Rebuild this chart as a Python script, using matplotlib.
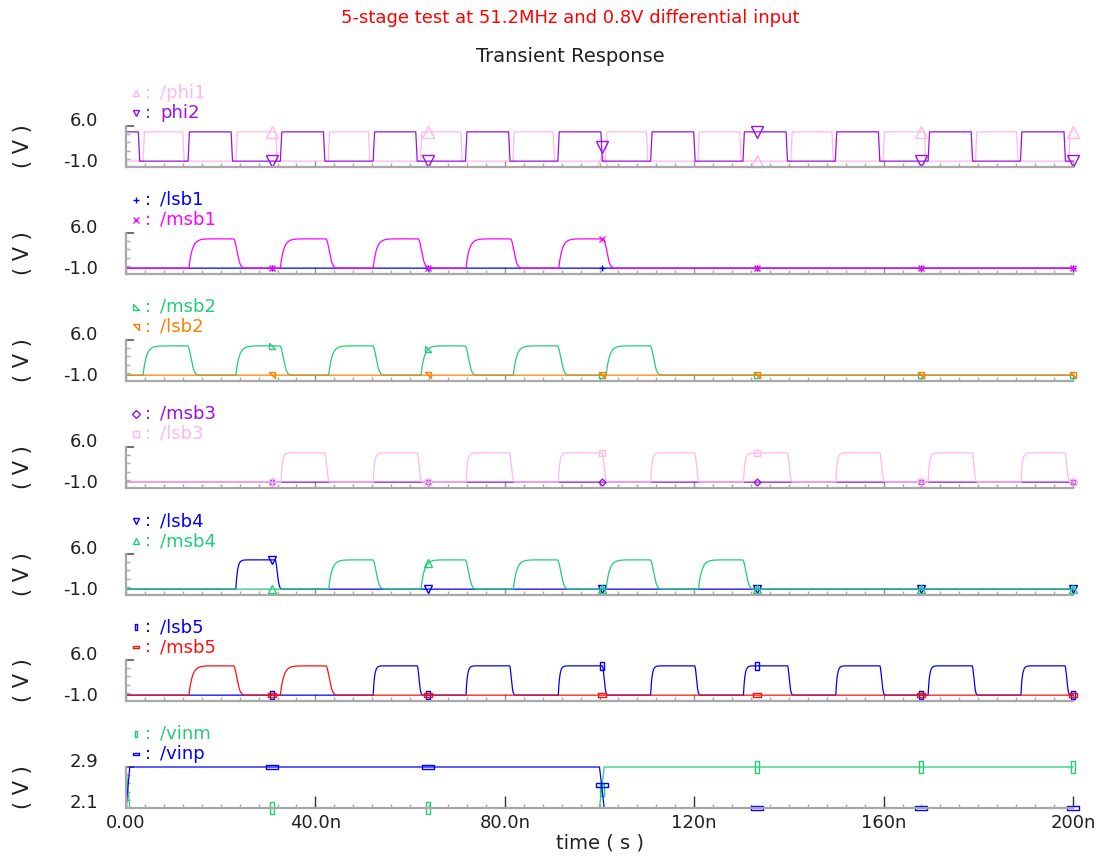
import numpy as np
import matplotlib.pyplot as plt
from matplotlib.path import Path
from matplotlib.ticker import MultipleLocator

plt.rcParams['font.family'] = ['DejaVu Sans']

# time axis in ns
t = np.linspace(0, 200, 8001)

# clock edges (ns)
phi1_rise = [3.6, 23.2, 42.7, 62.2, 81.7, 101.3, 120.8, 140.4, 159.9, 179.4, 199.1]
phi1_fall = [12.0, 31.6, 51.2, 70.7, 90.2, 109.9, 129.6, 149.1, 168.6, 188.1]
phi2_rise = [13.1, 32.6, 52.2, 71.7, 91.2, 110.8, 130.3, 149.8, 169.4, 188.9]
phi2_fall = [2.6, 22.2, 41.7, 61.2, 80.8, 100.3, 119.9, 139.4, 158.9, 178.5, 198.1]

# output bit pulses: start of rising edge / start of falling edge (ns)
msb1_rise = [13.3, 32.6, 52.2, 71.8, 91.4]
msb1_fall = [22.7, 42.2, 61.7, 81.2, 100.8]
msb2_rise = [3.6, 23.2, 42.8, 62.3, 81.8, 101.4]
msb2_fall = [13.0, 32.5, 52.1, 71.6, 91.1, 110.7]
lsb3_rise = [32.7, 52.2, 71.8, 91.3, 110.8, 130.4, 149.9, 169.4, 189.0]
lsb3_fall = [42.0, 61.5, 81.0, 100.6, 120.1, 139.7, 159.2, 178.7, 198.3]
lsb4_rise = [23.2]
lsb4_fall = [31.5]
msb4_rise = [42.8, 62.3, 81.8, 101.4, 120.9]
msb4_fall = [52.1, 71.6, 91.1, 110.7, 130.2]
lsb5_rise = [52.2, 71.8, 91.3, 110.8, 130.4, 149.9, 169.4, 189.0]
lsb5_fall = [61.5, 81.0, 100.6, 120.1, 139.7, 159.2, 178.7, 198.3]
msb5_rise = [13.3, 32.6]
msb5_fall = [22.7, 42.2]

# differential input (V)
vin_t = [0.0, 0.8, 100.0, 101.0, 200.0]
vinp_v = [2.1, 2.9, 2.9, 2.1, 2.1]
vinm_v = [2.9, 2.1, 2.1, 2.9, 2.9]

# where the viewer puts its trace markers (ns)
marker_t = [30.9, 63.8, 100.45, 133.2, 168.0, 200.0]


def clock_wave(rises, falls, start_high=False, edge=0.3, hi=5.0):
    pts_t, pts_v = [0.0], [hi if start_high else 0.0]
    edges = sorted([(r, 1) for r in rises] + [(f, 0) for f in falls])
    for e, up in edges:
        pts_t += [e, e + edge]
        pts_v += [0.0, hi] if up else [hi, 0.0]
    pts_t.append(t[-1])
    pts_v.append(pts_v[-1])
    return np.interp(t, pts_t, pts_v)


def pulse_wave(rises, falls, tau_r, tau_f, hi=5.0):
    v = np.zeros_like(t)
    for r, f in zip(rises, falls):
        up = (t >= r) & (t < f)
        v[up] = hi * (1 - np.exp(-(t[up] - r) / tau_r))
        top = hi * (1 - np.exp(-(f - r) / tau_r))
        dn = t >= f
        v[dn] += top * np.exp(-((t[dn] - f) / tau_f) ** 2)
    return v


zero = np.zeros_like(t)
phi1 = clock_wave(phi1_rise, phi1_fall)
phi2 = clock_wave(phi2_rise, phi2_fall, start_high=True)
msb1 = pulse_wave(msb1_rise, msb1_fall, 0.7, 1.0)
msb2 = pulse_wave(msb2_rise, msb2_fall, 0.7, 1.0)
lsb3 = pulse_wave(lsb3_rise, lsb3_fall, 0.3, 0.5)
lsb4 = pulse_wave(lsb4_rise, lsb4_fall, 0.35, 0.6)
msb4 = pulse_wave(msb4_rise, msb4_fall, 0.7, 1.0)
lsb5 = pulse_wave(lsb5_rise, lsb5_fall, 0.3, 0.5)
msb5 = pulse_wave(msb5_rise, msb5_fall, 0.7, 1.0)
vinp = np.interp(t, vin_t, vinp_v)
vinm = np.interp(t, vin_t, vinm_v)

# custom marker shapes
tri_ll = Path([(-1, 1), (-1, -1), (1, -1), (-1, 1)], closed=True)
tri_ur = Path([(-1, 1), (1, 1), (1, -1), (-1, 1)], closed=True)
rect_v = Path([(-0.4, -1), (0.4, -1), (0.4, 1), (-0.4, 1), (-0.4, -1)], closed=True)
rect_h = Path([(-1, -0.4), (1, -0.4), (1, 0.4), (-1, 0.4), (-1, -0.4)], closed=True)

PINK = '#ffb8ee'
PURPLE = '#9a10e8'
BLUE = '#0000ff'
MAGENTA = '#ff00ff'
GREEN = '#22cc77'
ORANGE = '#ff8000'
RED = '#ff1010'

# (signal, name, colour, marker, size) - first entry drawn first
panels = [
    [(phi1, '/phi1', PINK, '^', 8), (phi2, 'phi2', PURPLE, 'v', 8)],
    [(zero, '/lsb1', BLUE, '+', 5), (msb1, '/msb1', MAGENTA, 'x', 4)],
    [(msb2, '/msb2', GREEN, tri_ll, 5), (zero, '/lsb2', ORANGE, tri_ur, 5)],
    [(zero, '/msb3', PURPLE, 'D', 3.5), (lsb3, '/lsb3', PINK, 's', 4.5)],
    [(lsb4, '/lsb4', BLUE, 'v', 5.5), (msb4, '/msb4', GREEN, '^', 5.5)],
    [(lsb5, '/lsb5', BLUE, rect_v, 6), (msb5, '/msb5', RED, rect_h, 6)],
    [(vinm, '/vinm', GREEN, rect_v, 8), (vinp, '/vinp', BLUE, rect_h, 8)],
]

W, H = 1111, 859
fig = plt.figure(figsize=(W / 100, H / 100), dpi=100)
x0, x1 = 126, 1073
ph = 41
bottoms = [167, 274, 381, 488, 595, 701, 808]
ylims = [(-1, 6)] * 6 + [(2.1, 2.9)]
ylabs = [('6.0', '-1.0')] * 6 + [('2.9', '2.1')]
TXT = '#202020'

for i, traces in enumerate(panels):
    ax = fig.add_axes([x0 / W, 1 - bottoms[i] / H, (x1 - x0) / W, ph / H])
    for v, name, col, mk, ms in traces:
        ax.plot(t, v, color=col, lw=0.9, clip_on=False)
        ax.plot(marker_t, np.interp(marker_t, t, v), ls='none', marker=mk,
                ms=ms, mfc='none', mec=col, mew=1.0, clip_on=False)
    lo, hi = ylims[i]
    ax.set_xlim(0, 200)
    ax.set_ylim(lo, hi)
    for s in ('top', 'right'):
        ax.spines[s].set_visible(False)
    for s in ('left', 'bottom'):
        ax.spines[s].set_color('#a8a8a8')
        ax.spines[s].set_linewidth(1.6)
    ax.xaxis.set_major_locator(MultipleLocator(40))
    ax.xaxis.set_minor_locator(MultipleLocator(4))
    ax.set_yticks([hi])
    ax.set_yticks(np.linspace(lo, hi, 6)[1:-1], minor=True)
    ax.tick_params(axis='x', which='major', direction='in', length=5,
                   width=1.0, color='#909090')
    ax.tick_params(axis='y', which='major', direction='in', length=6,
                   width=1.4, color='#707070')
    ax.tick_params(axis='both', which='minor', direction='in', length=3,
                   width=1.0, color='#a8a8a8')
    ax.tick_params(axis='y', labelleft=False)
    if i < 6:
        ax.tick_params(axis='x', labelbottom=False)
    else:
        ax.set_xticks([0, 40, 80, 120, 160, 200])
        ax.set_xticklabels(['0.00', '40.0n', '80.0n', '120n', '160n', '200n'])
        ax.tick_params(axis='x', which='major', length=9, color='#303030',
                       labelsize=13, pad=4, labelcolor=TXT)

    # y labels sit just above their level, as in the viewer
    ytr = ax.get_yaxis_transform()
    ax.text(-28 / (x1 - x0), hi, ylabs[i][0], transform=ytr, ha='right',
            va='baseline', fontsize=13, color=TXT)
    ax.text(-28 / (x1 - x0), lo, ylabs[i][1], transform=ytr, ha='right',
            va='baseline', fontsize=13, color=TXT)
    fig.text(23 / W, 1 - (bottoms[i] - ph / 2) / H, '( V )', rotation=90,
             ha='center', va='center', fontsize=15, color=TXT)

    # legend rows above the panel
    for k, (v, name, col, mk, ms) in enumerate(traces):
        yy = 1 + (33 - 20 * k) / ph
        ax.plot([10 / (x1 - x0)], [yy], transform=ax.transAxes, marker=mk,
                ms=4.5, mfc='none', mec=col, mew=1.0, clip_on=False)
        ax.text(19 / (x1 - x0), yy, ':', transform=ax.transAxes, color=col,
                ha='left', va='center', fontsize=13)
        ax.text(34 / (x1 - x0), yy, name, transform=ax.transAxes, color=col,
                ha='left', va='center', fontsize=13)

fig.text(570 / W, 1 - 18 / H, '5-stage test at 51.2MHz and 0.8V differential input',
         color='#ff0000', ha='center', va='center', fontsize=13)
fig.text(570 / W, 1 - 56 / H, 'Transient Response', color=TXT,
         ha='center', va='center', fontsize=14)
fig.text(600 / W, 1 - 843 / H, 'time ( s )', color=TXT,
         ha='center', va='center', fontsize=14)

fig.savefig('out.png', dpi=100)
